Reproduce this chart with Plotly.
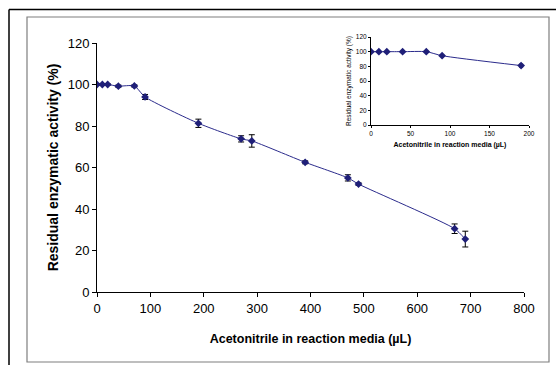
import plotly.graph_objects as go

# Main data
x_main = [0, 10, 20, 40, 70, 90, 190, 270, 290, 390, 470, 490, 670, 690]
y_main = [100, 100, 100, 99.2, 99.3, 94.0, 81.3, 73.8, 72.8, 62.5, 55.0, 52.0, 30.5, 25.5]
err_main = [0.3, 0.3, 0.3, 0.5, 0.5, 1.2, 2.0, 1.5, 3.0, 0.7, 1.5, 0.6, 2.3, 3.8]

# Inset data
x_inset = [0, 10, 20, 40, 70, 90, 190]
y_inset = [100, 100, 100, 100, 100, 94.5, 81.0]
err_inset = [0.5, 0.5, 0.5, 0.5, 0.5, 1.2, 2.0]

W, H = 556, 365
NAVY = "#1f1f78"
LINE = "#2b2b8c"
FONT = "Liberation Sans, Arial, sans-serif"

def px(x):
    return x / W

def py(y):
    return 1 - y / H

fig = go.Figure()
fig.add_trace(go.Scatter(
    x=x_main, y=y_main, mode="lines+markers",
    line=dict(color=LINE, width=1, shape="spline", smoothing=0.6),
    marker=dict(symbol="diamond", size=6, color=NAVY),
    error_y=dict(type="data", array=err_main, color="black", thickness=1, width=3),
    xaxis="x", yaxis="y", showlegend=False,
))
fig.add_trace(go.Scatter(
    x=x_inset, y=y_inset, mode="lines+markers",
    line=dict(color=LINE, width=1, shape="spline", smoothing=0.6),
    marker=dict(symbol="diamond", size=6, color=NAVY),
    error_y=dict(type="data", array=err_inset, color="black", thickness=1, width=2),
    xaxis="x2", yaxis="y2", showlegend=False,
))

common = dict(showgrid=False, zeroline=False, showline=True, linecolor="black", linewidth=1,
              ticks="outside", tickcolor="black", automargin=False)

fig.update_layout(
    template="none",
    width=W, height=H, autosize=False,
    margin=dict(l=0, r=0, t=0, b=0, pad=0),
    paper_bgcolor="white", plot_bgcolor="rgba(0,0,0,0)",
    font=dict(family=FONT, color="black"),
    xaxis=dict(
        domain=[px(97), px(524)], range=[0, 800], tickvals=list(range(0, 801, 100)),
        ticklen=4, tickfont=dict(size=13),
        title=dict(text="<b>Acetonitrile in reaction media (µL)</b>", font=dict(size=12.5), standoff=19),
        anchor="y", **common,
    ),
    yaxis=dict(
        domain=[py(292), py(43)], range=[0, 120], tickvals=list(range(0, 121, 20)),
        ticklen=4, tickfont=dict(size=13),
        title=dict(text="<b>Residual enzymatic activity (%)</b>", font=dict(size=14), standoff=5),
        anchor="x", **common,
    ),
    xaxis2=dict(
        domain=[px(371), px(529)], range=[0, 200], tickvals=[0, 50, 100, 150, 200],
        ticklen=2, tickfont=dict(size=6.5),
        title=dict(text="<b>Acetonitrile in reaction media (µL)</b>", font=dict(size=7), standoff=6),
        anchor="y2", **common,
    ),
    yaxis2=dict(
        domain=[py(125), py(37)], range=[0, 120], tickvals=list(range(0, 121, 20)),
        ticklen=2, tickfont=dict(size=6.5),
        title=dict(text="Residual enzymatic activity (%)", font=dict(size=6.5), standoff=3),
        anchor="x2", **common,
    ),
    shapes=[
        dict(type="line", xref="paper", yref="paper", x0=px(9), x1=1, y0=py(9.5), y1=py(9.5),
             line=dict(color="black", width=1.5)),
        dict(type="line", xref="paper", yref="paper", x0=px(9), x1=px(9), y0=py(9.5), y1=0,
             line=dict(color="black", width=1.5)),
        dict(type="rect", xref="paper", yref="paper", x0=px(27), x1=px(549), y0=py(362), y1=py(17),
             line=dict(color="#7f7f7f", width=1.2)),
    ],
)

fig.write_html(
    "out.html",
    config={"responsive": False, "displayModeBar": False},
    post_script="document.body.style.margin='0';document.body.style.overflow='hidden';",
)
